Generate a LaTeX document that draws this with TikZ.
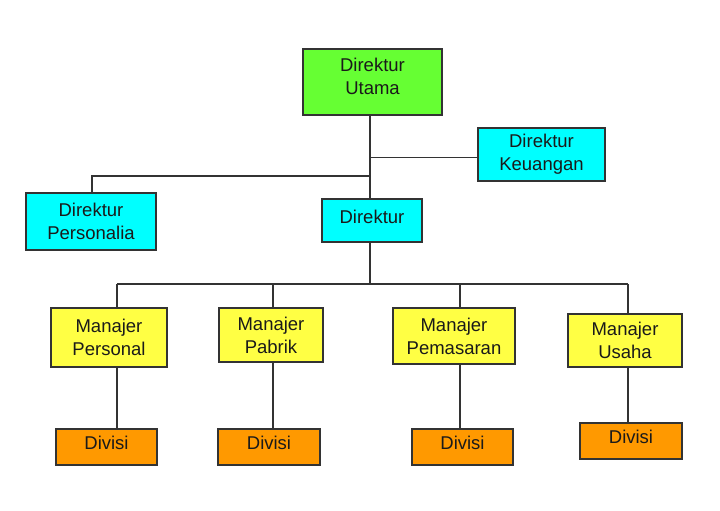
\documentclass[tikz,border=0pt]{standalone}
\usepackage{fontspec}
\setmainfont{Liberation Sans}
\usetikzlibrary{shadows}
\definecolor{cgreen}{HTML}{66FF33}
\definecolor{ccyan}{HTML}{00FFFF}
\definecolor{cyellow}{HTML}{FFFF44}
\definecolor{corange}{HTML}{FF9900}
\definecolor{ctext}{HTML}{1A1A1A}
\definecolor{cline}{HTML}{333333}
\begin{document}
\begin{tikzpicture}[x=1pt,y=-1pt,
  box/.style={draw=cline,line width=1.2pt,rectangle,inner sep=0pt,align=center,
    text=ctext,font=\fontsize{18.5}{23}\selectfont,
    drop shadow={shadow xshift=1.2pt,shadow yshift=-1.2pt,fill=black!35,opacity=1}},
  liftone/.style={text depth=8pt},
  conn/.style={draw=cline,line width=1.1pt}]
\useasboundingbox (0,0) rectangle (720,511);
\node[box,fill=cgreen,minimum width=139pt,minimum height=66pt,text height=36pt,text depth=12pt] (utama) at (372.5,82) {Direktur\\Utama};
\node[box,fill=ccyan,minimum width=127pt,minimum height=53pt] (keu) at (541.5,154.5) {Direktur\\Keuangan};
\node[box,fill=ccyan,minimum width=130pt,minimum height=57pt] (pers) at (91,221.5) {Direktur\\Personalia};
\node[box,fill=ccyan,minimum width=100pt,minimum height=43pt,liftone] (dir) at (372,220.5) {Direktur};
\node[box,fill=cyellow,minimum width=116pt,minimum height=59pt] (m1) at (109,337.5) {Manajer\\Personal};
\node[box,fill=cyellow,minimum width=104pt,minimum height=54pt] (m2) at (271,335) {Manajer\\Pabrik};
\node[box,fill=cyellow,minimum width=122pt,minimum height=56pt] (m3) at (454,336) {Manajer\\Pemasaran};
\node[box,fill=cyellow,minimum width=114pt,minimum height=53pt] (m4) at (625,340.5) {Manajer\\Usaha};
\node[box,fill=corange,minimum width=101pt,minimum height=36pt,liftone] (d1) at (106.5,447) {Divisi};
\node[box,fill=corange,minimum width=102pt,minimum height=36pt,liftone] (d2) at (269,447) {Divisi};
\node[box,fill=corange,minimum width=101pt,minimum height=36pt,liftone] (d3) at (462.5,447) {Divisi};
\node[box,fill=corange,minimum width=102pt,minimum height=36pt,liftone] (d4) at (631,441) {Divisi};
\coordinate (xa) at (370,0);
\coordinate (hk) at (370,157.5);
\coordinate (hp) at (370,176);
\coordinate (hpl) at (92,176);
\coordinate (bus) at (370,284);
\coordinate (b1) at (117,284);
\coordinate (b2) at (273,284);
\coordinate (b3) at (460,284);
\coordinate (b4) at (628,284);
\draw[conn] (utama.south -| xa) -- (dir.north -| xa);
\draw[conn] (hk) -- (keu.west |- hk);
\draw[conn] (hp) -- (hpl) -- (pers.north -| hpl);
\draw[conn] (dir.south -| xa) -- (bus);
\draw[conn] (b1) -- (b4);
\draw[conn] (b1) -- (m1.north -| b1);
\draw[conn] (b2) -- (m2.north -| b2);
\draw[conn] (b3) -- (m3.north -| b3);
\draw[conn] (b4) -- (m4.north -| b4);
\draw[conn] (m1.south -| b1) -- (d1.north -| b1);
\draw[conn] (m2.south -| b2) -- (d2.north -| b2);
\draw[conn] (m3.south -| b3) -- (d3.north -| b3);
\draw[conn] (m4.south -| b4) -- (d4.north -| b4);
\end{tikzpicture}
\end{document}
